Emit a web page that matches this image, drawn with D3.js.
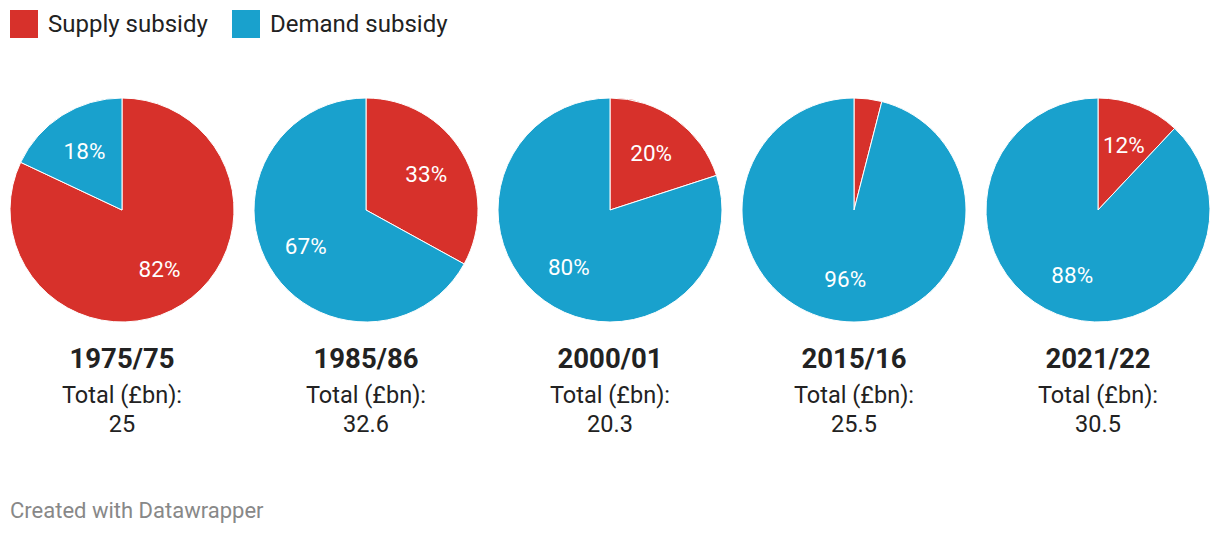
<!DOCTYPE html>
<html><head><meta charset="utf-8">
<script src="https://cdn.jsdelivr.net/npm/d3@7"></script>
<style>
html,body{margin:0;padding:0;background:#fff;}
svg{display:block;font-family:Roboto, "Noto Sans", sans-serif;}
</style></head>
<body><svg id="c" width="1220" height="534"></svg>
<script>
const years = ["1975/75","1985/86","2000/01","2015/16","2021/22"];
const supply = [82,33,20,4,12];
const demand = [18,67,80,96,88];
const totals = ["25","32.6","20.3","25.5","30.5"];
const seriesNames = ["Supply subsidy","Demand subsidy"];
const colors = ["#d7312b","#19a1cd"];

const svg = d3.select("#c");
// legend
const leg = svg.append("g");
const legX = [10,232];
seriesNames.forEach((n,i)=>{
  leg.append("rect").attr("x",legX[i]).attr("y",10).attr("width",28).attr("height",28).attr("fill",colors[i]);
  leg.append("text").attr("x",legX[i]+38).attr("y",32).attr("font-size",24).attr("fill","#222").text(n);
});

const x = d3.scalePoint().domain(years).range([122,1098]);
const R = 112, cy = 210;
const pie = d3.pie().sort(null).value(d=>d.v);
const arc = d3.arc().innerRadius(0).outerRadius(R);
const labelArc = d3.arc().innerRadius(70).outerRadius(70);

years.forEach((y,i)=>{
  const g = svg.append("g").attr("transform",`translate(${x(y)},${cy})`);
  const data = [{k:0,v:supply[i]},{k:1,v:demand[i]}];
  const arcs = pie(data);
  g.selectAll("path").data(arcs).join("path")
    .attr("d",arc).attr("fill",d=>colors[d.data.k])
    .attr("stroke","#fff").attr("stroke-width",1);
  g.selectAll("text").data(arcs.filter(d=>d.data.v>=8)).join("text")
    .attr("transform",d=>`translate(${labelArc.centroid(d)})`)
    .attr("text-anchor","middle").attr("dy","0.35em")
    .attr("font-size",22.5).attr("fill","#fff").text(d=>d.data.v+"%");
  const t = svg.append("g").attr("transform",`translate(${x(y)},0)`);
  t.append("text").attr("y",368).attr("text-anchor","middle").attr("font-size",27.5).attr("font-weight","bold").attr("fill","#222").text(y);
  t.append("text").attr("y",403).attr("text-anchor","middle").attr("font-size",23.5).attr("fill","#222").text("Total (£bn):");
  t.append("text").attr("y",432).attr("text-anchor","middle").attr("font-size",23.5).attr("fill","#222").text(totals[i]);
});

svg.append("text").attr("x",10).attr("y",518).attr("font-size",22).attr("fill","#888").text("Created with Datawrapper");
</script></body></html>
